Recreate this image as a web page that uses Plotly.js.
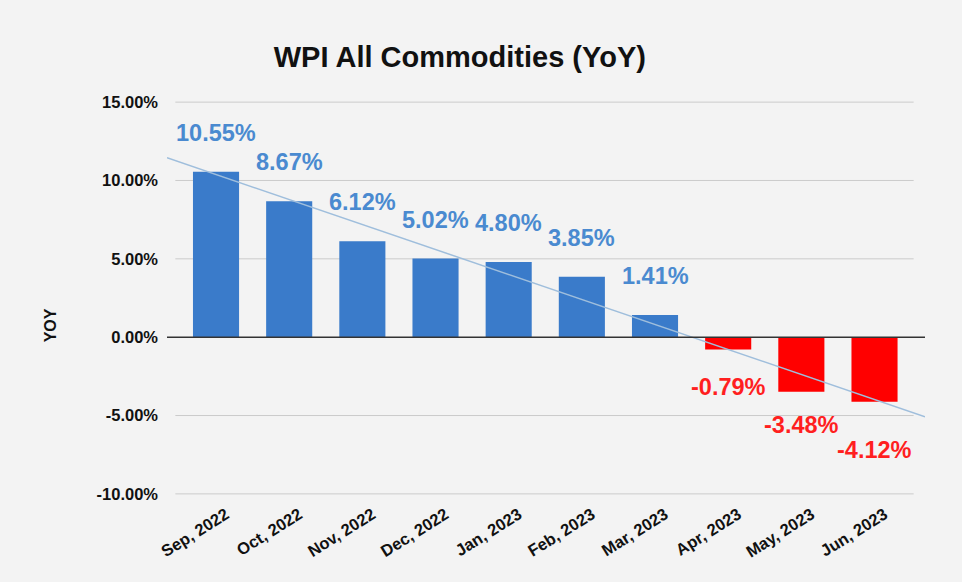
<!DOCTYPE html>
<html>
<head>
<meta charset="utf-8">
<script src="https://cdn.plot.ly/plotly-3.0.1.min.js"></script>
<style>
  html, body { margin: 0; padding: 0; background: #f3f3f3; }
  #chart { width: 962px; height: 582px; }
</style>
</head>
<body>
<div id="chart"></div>
<script>
const MONTHS = ['Sep, 2022', 'Oct, 2022', 'Nov, 2022', 'Dec, 2022', 'Jan, 2023',
    'Feb, 2023', 'Mar, 2023', 'Apr, 2023', 'May, 2023', 'Jun, 2023'];
const YOY = [10.55, 8.67, 6.12, 5.02, 4.80, 3.85, 1.41, -0.79, -3.48, -4.12];

// trend line end points
const TREND_X = [-0.67, 9.69];
const TREND_Y = [11.45, -5.08];

const Y_TICKS = [-10, -5, 0, 5, 10, 15];
const Y_TICK_TEXT = ['-10.00%', '-5.00%', '0.00%', '5.00%', '10.00%', '15.00%'];

const FONT = 'Liberation Sans, Arial, sans-serif';
const BLUE = '#3a7bca';
const RED = '#ff0000';

const xIdx = MONTHS.map((m, i) => i);

const bars = {
    type: 'bar',
    x: xIdx,
    y: YOY,
    width: 0.63,
    marker: { color: YOY.map(v => v < 0 ? RED : BLUE) },
    hoverinfo: 'skip',
};

const trend = {
    type: 'scatter',
    mode: 'lines',
    x: TREND_X,
    y: TREND_Y,
    line: { color: '#9fbedc', width: 1.5 },
    hoverinfo: 'skip',
};

// negative labels sit at slightly uneven distances in the original
const negShift = [-37, -33, -48];
let n = 0;
const labels = YOY.map((v, i) => ({
    x: i, y: v, xref: 'x', yref: 'y',
    text: v.toFixed(2) + '%',
    showarrow: false,
    yshift: v >= 0 ? 39 : negShift[n++],
    font: { family: FONT, size: 23.5, weight: 'bold', color: v < 0 ? '#ff1f1f' : '#4a8ad0' },
}));

labels.push({
    text: 'YOY', xref: 'paper', yref: 'paper', x: -0.154, y: 0.432,
    xanchor: 'center', yanchor: 'middle',
    textangle: -90, showarrow: false,
    font: { family: FONT, size: 16, weight: 'bold', color: '#111' },
});

const gridShapes = Y_TICKS.filter(v => v !== 0).map(v => ({
    type: 'line', xref: 'paper', yref: 'y',
    x0: 0.011, x1: 0.985, y0: v, y1: v,
    line: { color: '#cbcbcb', width: 1 },
    layer: 'below',
}));

gridShapes.push({
    type: 'line', xref: 'paper', yref: 'y',
    x0: 0, x1: 1, y0: 0, y1: 0,
    line: { color: '#333', width: 1.5 },
    layer: 'above',
});

const layout = {
    width: 962,
    height: 582,
    paper_bgcolor: '#f3f3f3',
    plot_bgcolor: '#f3f3f3',
    margin: { l: 167, r: 37, t: 99, b: 85 },
    showlegend: false,
    font: { family: FONT, color: '#111' },
    title: {
        text: 'WPI All Commodities (YoY)',
        x: 0.478, xanchor: 'center',
        y: 0.902, yanchor: 'middle',
        font: { family: FONT, size: 29, weight: 'bold', color: '#111' },
    },
    xaxis: {
        range: [-0.67, 9.69],
        tickvals: xIdx,
        ticktext: MONTHS,
        tickangle: -32,
        showgrid: false,
        zeroline: false,
        showline: false,
        ticks: '',
        ticklabelshift: 10,
        ticklabelstandoff: 4,
        tickfont: { family: FONT, size: 16.5, weight: 'bold', color: '#111' },
    },
    yaxis: {
        range: [-10.2, 15.2],
        tickvals: Y_TICKS,
        ticktext: Y_TICK_TEXT,
        showgrid: false,
        zeroline: false,
        showline: false,
        ticks: '',
        ticklabelstandoff: 8,
        tickfont: { family: FONT, size: 16.5, weight: 'bold', color: '#111' },
    },
    shapes: gridShapes,
    annotations: labels,
};

Plotly.newPlot('chart', [bars, trend], layout, { displayModeBar: false, staticPlot: true });
</script>
</body>
</html>
